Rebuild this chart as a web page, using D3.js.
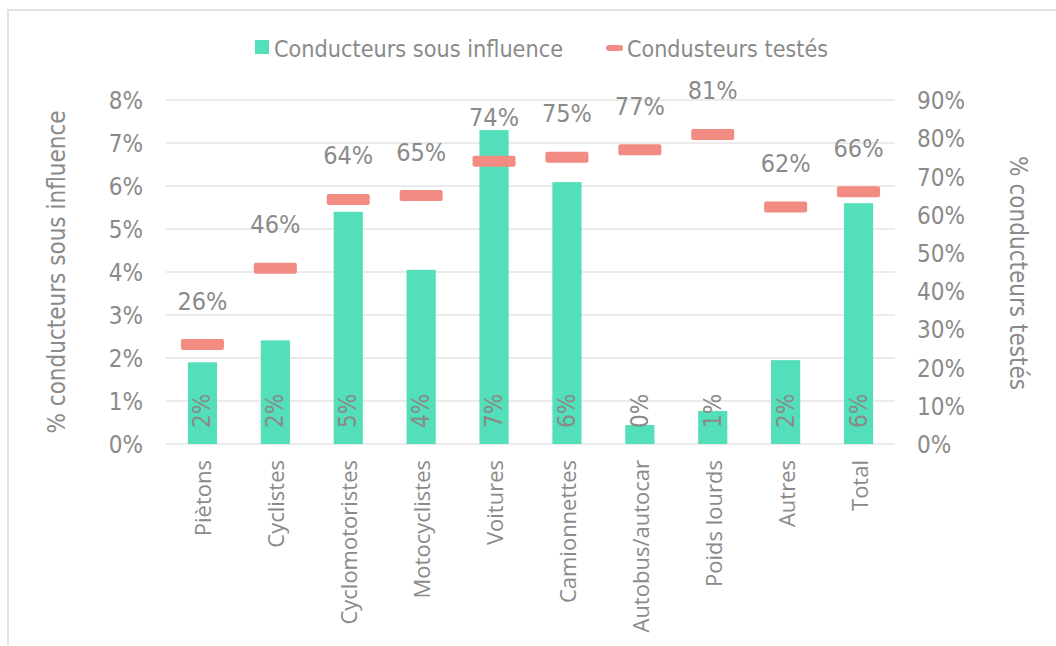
<!DOCTYPE html>
<html>
<head>
<meta charset="utf-8">
<script src="https://cdn.jsdelivr.net/npm/d3@7/dist/d3.min.js"></script>
<style>
  html, body { margin: 0; padding: 0; background: #fff; }
  svg { display: block; }
  text { fill: #8a8a8a; }
</style>
</head>
<body>
<svg id="chart" width="1056" height="646"></svg>
<script>
// Share of drivers under influence (left axis) and share of drivers tested (right axis)
const categories = ["Piètons", "Cyclistes", "Cyclomotoristes", "Motocyclistes", "Voitures",
                    "Camionnettes", "Autobus/autocar", "Poids lourds", "Autres", "Total"];
const sousInfluence = [1.90, 2.41, 5.40, 4.05, 7.30, 6.09, 0.44, 0.77, 1.95, 5.60];
const testes = [26, 46, 64, 65, 74, 75, 77, 81, 62, 66];
const leftTicks = [0, 1, 2, 3, 4, 5, 6, 7, 8];
const rightTicks = [0, 10, 20, 30, 40, 50, 60, 70, 80, 90];
const seriesNames = ["Conducteurs sous influence", "Condusteurs testés"];

const teal = "#52dfb9";
const salmon = "#f28b82";
const textGray = "#939393";
const numFont = "'DejaVu Sans Condensed', 'DejaVu Sans', sans-serif";
const catFont = "'Open Sans', sans-serif";

const svg = d3.select("#chart");

// outer frame
svg.append("path")
  .attr("d", "M8,646 V10 H1056")
  .attr("fill", "none")
  .attr("stroke", "#e3e3e3")
  .attr("stroke-width", 2);

const plot = { left: 166, right: 895, top: 100, bottom: 444 };

const x = d3.scaleBand()
  .domain(categories)
  .range([plot.left, plot.right])
  .paddingInner(0.6)
  .paddingOuter(0.3);

const yL = d3.scaleLinear().domain([0, 8]).range([plot.bottom, plot.top]);
const yR = d3.scaleLinear().domain([0, 90]).range([plot.bottom, plot.top]);

// gridlines
svg.append("g")
  .selectAll("line")
  .data(leftTicks)
  .join("line")
  .attr("x1", plot.left).attr("x2", plot.right)
  .attr("y1", d => yL(d)).attr("y2", d => yL(d))
  .attr("stroke", "#e4e4e4")
  .attr("stroke-width", 1.5);

// left axis
const axL = svg.append("g")
  .attr("transform", `translate(${plot.left - 23},0)`)
  .call(d3.axisLeft(yL).tickValues(leftTicks).tickSize(0).tickPadding(0).tickFormat(d => d + "%"));
axL.select(".domain").remove();
axL.selectAll("text")
  .attr("font-family", numFont).attr("font-size", 24)
  .attr("fill", textGray).attr("dy", "0.36em");

// right axis
const axR = svg.append("g")
  .attr("transform", `translate(${plot.right + 22},0)`)
  .call(d3.axisRight(yR).tickValues(rightTicks).tickSize(0).tickPadding(0).tickFormat(d => d + "%"));
axR.select(".domain").remove();
axR.selectAll("text")
  .attr("font-family", numFont).attr("font-size", 24)
  .attr("fill", textGray).attr("dy", "0.36em");

// bottom axis (category labels)
const axB = svg.append("g")
  .attr("transform", `translate(0,${plot.bottom})`)
  .call(d3.axisBottom(x).tickSize(0).tickPadding(0));
axB.select(".domain").remove();
axB.selectAll("text")
  .attr("font-family", catFont).attr("font-size", 22)
  .attr("fill", textGray)
  .attr("text-anchor", "end")
  .attr("dy", null)
  .attr("y", 0)
  .attr("dominant-baseline", "central")
  .attr("transform", "translate(0,16) rotate(-90)");

// bars
svg.append("g")
  .selectAll("rect")
  .data(categories)
  .join("rect")
  .attr("x", d => x(d))
  .attr("width", x.bandwidth())
  .attr("y", (d, i) => yL(sousInfluence[i]))
  .attr("height", (d, i) => yL(0) - yL(sousInfluence[i]))
  .attr("fill", teal);

// bar value labels
svg.append("g")
  .selectAll("text")
  .data(categories)
  .join("text")
  .attr("transform", d => `translate(${x(d) + x.bandwidth() / 2},${plot.bottom - 16}) rotate(-90)`)
  .attr("text-anchor", "start")
  .attr("dominant-baseline", "central")
  .attr("font-family", numFont).attr("font-size", 24)
  .attr("fill", "#8c8c8c")
  .text((d, i) => Math.round(sousInfluence[i]) + "%");

// tested markers
svg.append("g")
  .selectAll("rect")
  .data(categories)
  .join("rect")
  .attr("x", d => x(d) + x.bandwidth() / 2 - 21.5)
  .attr("y", (d, i) => yR(testes[i]) - 5.5)
  .attr("width", 43)
  .attr("height", 11)
  .attr("rx", 2)
  .attr("fill", salmon);

// tested value labels
svg.append("g")
  .selectAll("text")
  .data(categories)
  .join("text")
  .attr("x", d => x(d) + x.bandwidth() / 2)
  .attr("y", (d, i) => yR(testes[i]) - 35)
  .attr("text-anchor", "middle")
  .attr("font-family", numFont).attr("font-size", 25)
  .attr("fill", "#8a8a8a")
  .text((d, i) => testes[i] + "%");

// axis titles
svg.append("text")
  .attr("transform", `translate(57,272) rotate(-90)`)
  .attr("text-anchor", "middle")
  .attr("dominant-baseline", "central")
  .attr("font-family", numFont).attr("font-size", 24)
  .attr("fill", textGray)
  .text("% conducteurs sous influence");

svg.append("text")
  .attr("transform", `translate(1018,273) rotate(90)`)
  .attr("text-anchor", "middle")
  .attr("dominant-baseline", "central")
  .attr("font-family", numFont).attr("font-size", 24)
  .attr("fill", textGray)
  .text("% conducteurs testés");

// legend
const legend = svg.append("g");
legend.append("rect")
  .attr("x", 255).attr("y", 40).attr("width", 14).attr("height", 14)
  .attr("fill", teal);
legend.append("text")
  .attr("x", 274).attr("y", 57)
  .attr("font-family", numFont).attr("font-size", 23)
  .attr("fill", textGray)
  .attr("textLength", 289)
  .attr("lengthAdjust", "spacingAndGlyphs")
  .text(seriesNames[0]);
legend.append("rect")
  .attr("x", 606).attr("y", 45).attr("width", 17).attr("height", 6).attr("rx", 3)
  .attr("fill", salmon);
legend.append("text")
  .attr("x", 627).attr("y", 57)
  .attr("font-family", numFont).attr("font-size", 23)
  .attr("fill", textGray)
  .attr("textLength", 201)
  .attr("lengthAdjust", "spacingAndGlyphs")
  .text(seriesNames[1]);
</script>
</body>
</html>
